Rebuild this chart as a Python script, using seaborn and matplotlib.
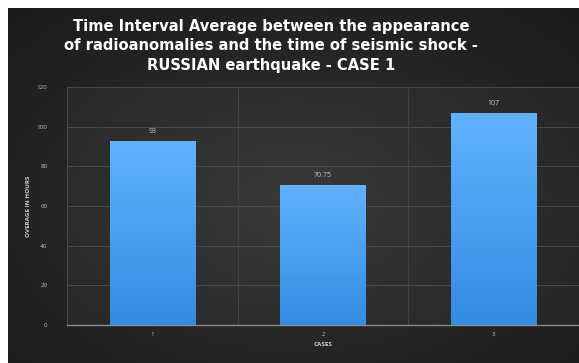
import numpy as np
import pandas as pd
import matplotlib
matplotlib.use("Agg")
import matplotlib.pyplot as plt
import seaborn as sns

cases = ["1", "2", "3"]
hours = [93, 70.75, 107]
value_labels = ["93", "70.75", "107"]
y_ticks = [0, 20, 40, 60, 80, 100, 120]

title = ("Time Interval Average between the appearance\n"
         "of radioanomalies and the time of seismic shock -\n"
         "RUSSIAN earthquake - CASE 1")

sns.set_theme(style="dark")
plt.rcParams["font.family"] = ["Open Sans", "DejaVu Sans"]

W, H, DPI = 579, 363, 100
fig = plt.figure(figsize=(W / DPI, H / DPI), dpi=DPI, facecolor="white")

# dark panel with a soft radial glow
bg = fig.add_axes([8 / W, 0, 1 - 8 / W, 1 - 8 / H], zorder=-10)
yy, xx = np.mgrid[0:1:300j, 0:1:500j]
r = np.sqrt(((xx - 0.5) / 0.75) ** 2 + ((yy - 0.55) / 0.8) ** 2)
shade = np.clip(0.20 - 0.10 * r, 0.08, 0.20)
bg.imshow(np.dstack([shade, shade, shade]), aspect="auto", extent=[0, 1, 0, 1],
          interpolation="bilinear")
bg.set_axis_off()

fig.text(271 / W, 1 - 46 / H, title, ha="center", va="center", color="white",
         fontsize=10.6, fontweight="bold", linespacing=1.38,
         family=["DejaVu Sans"])

ax = fig.add_axes([67 / W, (H - 325) / H, (W - 67) / W, (325 - 87) / H])
ax.set_facecolor((1, 1, 1, 0.03))

df = pd.DataFrame({"case": cases, "hours": hours})
sns.barplot(data=df, x="case", y="hours", color="#4a9ff0", width=0.5,
            saturation=1, linewidth=0, ax=ax, zorder=3)

# vertical gradient on each bar
grad = np.linspace(0, 1, 256).reshape(-1, 1)
top = np.array([0.38, 0.70, 1.00])
bot = np.array([0.20, 0.55, 0.89])
img = top * (1 - grad[..., None]) + bot * grad[..., None]
for p in ax.patches:
    x0, y0 = p.get_x(), p.get_y()
    w, h = p.get_width(), p.get_height()
    im = ax.imshow(img, extent=[x0, x0 + w, y0, y0 + h], aspect="auto",
                   zorder=4, interpolation="bilinear")
    im.set_clip_path(p)

for i, (v, lab) in enumerate(zip(hours, value_labels)):
    ax.text(i, v + 2.8, lab, ha="center", va="bottom", color="#c8c8c8",
            fontsize=5)

ax.set_xlim(-0.5, 2.5)
ax.set_ylim(0, 120)
ax.set_yticks(y_ticks)
ax.set_yticklabels([str(t) for t in y_ticks], color="#bdbdbd", fontsize=4.5)
ax.tick_params(axis="x", colors="#bdbdbd", labelsize=4.5, length=0, pad=5)
ax.tick_params(axis="y", length=0, pad=14)
ax.set_axisbelow(True)
for t in y_ticks[1:]:
    ax.axhline(t, color="#4a4a4a", lw=0.7, zorder=1)
for xv in [0.5, 1.5]:
    ax.axvline(xv, color="#444444", lw=0.7, zorder=1)
ax.grid(False)

for s in ["top", "right"]:
    ax.spines[s].set_visible(False)
ax.spines["left"].set_color("#4a4a4a")
ax.spines["left"].set_linewidth(0.7)
ax.spines["bottom"].set_color("#8a8a8a")
ax.spines["bottom"].set_linewidth(1.0)
ax.spines["bottom"].set_zorder(5)

ax.set_xlabel("CASES", color="#d0d0d0", fontsize=4.5, fontweight="bold",
              labelpad=4)
ax.set_ylabel("OVERAGE IN HOURS", color="#d0d0d0", fontsize=4.5,
              fontweight="bold", labelpad=4)

fig.savefig("out.png", dpi=DPI, facecolor="white")
